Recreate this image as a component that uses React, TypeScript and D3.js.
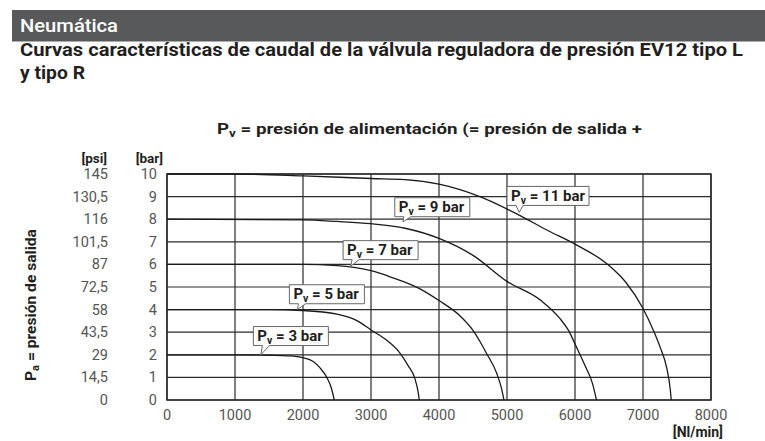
import React from 'react';
import * as d3 from 'd3';

// flow [Nl/min] vs outlet pressure [bar]
const curve3 = [[0, 2], [1000, 2], [1500, 1.98], [1800, 1.95], [2000, 1.87], [2150, 1.7], [2250, 1.42], [2350, 1.0], [2420, 0.5], [2460, 0]];
const curve5 = [[0, 4], [1500, 4], [2000, 3.96], [2500, 3.8], [2800, 3.5], [3000, 3.1], [3250, 2.6], [3420, 2.1], [3550, 1.5], [3640, 1.0], [3690, 0.4], [3710, 0]];
const curve7 = [[0, 6], [2000, 6], [2500, 5.95], [2750, 5.87], [3000, 5.72], [3300, 5.43], [3700, 4.95], [4000, 4.4], [4300, 3.75], [4500, 3.08], [4600, 2.6], [4700, 2.06], [4850, 1.17], [4920, 0.5], [4955, 0]];
const curve9 = [[0, 8], [2000, 7.97], [2500, 7.9], [3000, 7.8], [3500, 7.6], [4000, 7.15], [4500, 6.4], [5000, 5.25], [5500, 4.4], [5780, 3.6], [5900, 3.1], [6020, 2.35], [6150, 1.5], [6260, 0.7], [6315, 0]];
const curve11 = [[0, 10], [1000, 10], [2000, 9.92], [3000, 9.8], [3500, 9.75], [4000, 9.55], [4600, 9.0], [5200, 8.15], [5600, 7.5], [6000, 6.9], [6500, 5.95], [6750, 5.2], [7000, 4.05], [7150, 3.1], [7250, 2.35], [7350, 1.4], [7400, 0.5], [7415, 0]];

const curves = [curve3, curve5, curve7, curve9, curve11];
const labels = ['3', '5', '7', '9', '11'];
// label box corner (flow, bar) and pointer tip (flow, bar)
const labelBox = [[1270, 3.25], [1800, 5.1], [2590, 7.05], [3350, 8.95], [5000, 9.45]];
const labelTip = [[1380, 2], [1920, 4], [2700, 5.92], [3470, 7.88], [5180, 8.3]];

const barTicks = [0, 1, 2, 3, 4, 5, 6, 7, 8, 9, 10];
const psiTicks = ['0', '14,5', '29', '43,5', '58', '72,5', '87', '101,5', '116', '130,5', '145'];
const flowTicks = [0, 1000, 2000, 3000, 4000, 5000, 6000, 7000, 8000];

const W = 765;
const H = 441;
const font = 'Roboto, "DejaVu Sans", sans-serif';
const ink = '#231f20';

export default function App() {
  const x = d3.scaleLinear().domain([0, 8000]).range([167, 711]);
  const y = d3.scaleLinear().domain([0, 10]).range([400, 174]);
  const line = d3.line<number[]>()
    .x(d => x(d[0]))
    .y(d => y(d[1]))
    .curve(d3.curveMonotoneX);

  return (
    <svg width={W} height={H} style={{ position: 'absolute', left: 0, top: 0 }} fontFamily={font}>
      <rect x={0} y={0} width={W} height={H} fill="#fff" />
      <rect x={12} y={10} width={W - 12} height={31.5} fill="#58595b" />
      <text x={20} y={32} fill="#fff" fontSize={19} fontWeight={500} textLength={98} lengthAdjust="spacingAndGlyphs">Neumática</text>
      <text x={20} y={56} fill={ink} fontSize={17.5} fontWeight={700} textLength={723} lengthAdjust="spacingAndGlyphs">
        Curvas características de caudal de la válvula reguladora de presión EV12 tipo L
      </text>
      <text x={20} y={79} fill={ink} fontSize={17.5} fontWeight={700} textLength={65} lengthAdjust="spacingAndGlyphs">y tipo R</text>

      <text x={217} y={134} fill={ink} fontSize={14} fontWeight={700} textLength={425} lengthAdjust="spacingAndGlyphs">
        P<tspan fontSize={10} dy={3}>v</tspan><tspan dy={-3}> = presión de alimentación (= presión de salida +</tspan>
      </text>

      <text x={107} y={163} textAnchor="end" fill={ink} fontSize={13.5} fontWeight={700}>[psi]</text>
      <text x={163} y={163} textAnchor="end" fill={ink} fontSize={13.5} fontWeight={700}>[bar]</text>

      {barTicks.map((b, i) => (
        <g key={b}>
          <line x1={x(0)} x2={x(8000)} y1={y(b)} y2={y(b)} stroke="#2b2b2b" strokeWidth={1.2} />
          <text x={157} y={y(b) + 5} textAnchor="end" fill="#555" fontSize={14.5}>{b}</text>
          <text x={108} y={y(b) + 5} textAnchor="end" fill="#555" fontSize={14.5}>{psiTicks[i]}</text>
        </g>
      ))}
      {flowTicks.map(f => (
        <g key={f}>
          <line x1={x(f)} x2={x(f)} y1={y(0)} y2={y(10)} stroke="#2b2b2b" strokeWidth={1.2} />
          <text x={x(f)} y={420} textAnchor="middle" fill="#555" fontSize={14.5}>{f}</text>
        </g>
      ))}
      <rect x={x(0)} y={y(10)} width={x(8000) - x(0)} height={y(0) - y(10)} fill="none" stroke="#2b2b2b" strokeWidth={1.5} />

      {curves.map((c, i) => (
        <path key={i} d={line(c) || ''} fill="none" stroke="#1a1a1a" strokeWidth={1.3} />
      ))}

      {labels.map((l, i) => {
        const bx = x(labelBox[i][0]);
        const by = y(labelBox[i][1]);
        const bw = l.length > 1 ? 82 : 75;
        const bh = 19;
        const tx = x(labelTip[i][0]);
        const ty = y(labelTip[i][1]);
        return (
          <g key={l}>
            <path
              d={`M${bx},${by} H${bx + bw} V${by + bh} H${bx + 16} L${tx},${ty} L${bx + 9},${by + bh} H${bx} Z`}
              fill="#fff" stroke="#666" strokeWidth={1}
            />
            <text x={bx + 4} y={by + 14.5} fill={ink} fontSize={15} fontWeight={700}>
              P<tspan fontSize={10.5} dy={3}>v</tspan><tspan dy={-3}> = {l} bar</tspan>
            </text>
          </g>
        );
      })}

      <text transform="translate(36,381) rotate(-90)" fill={ink} fontSize={14} fontWeight={700} textLength={152} lengthAdjust="spacingAndGlyphs">
        P<tspan fontSize={10} dy={3}>a</tspan><tspan dy={-3}> = presión de salida</tspan>
      </text>
      <text x={723} y={437} textAnchor="end" fill={ink} fontSize={14} fontWeight={700}>[Nl/min]</text>
    </svg>
  );
}
